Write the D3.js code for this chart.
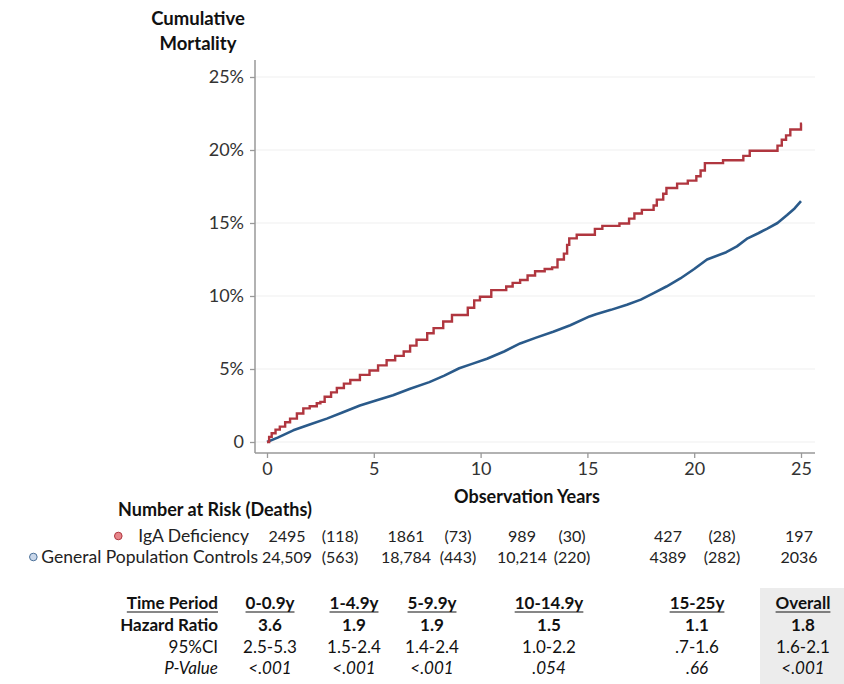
<!DOCTYPE html>
<html>
<head>
<meta charset="utf-8">
<script src="https://cdn.jsdelivr.net/npm/d3@7"></script>
<style>
  body { margin: 0; background: #fff; }
  svg, svg text { font-family: Lato, "Open Sans", sans-serif; }
</style>
</head>
<body>
<svg id="chart" width="844" height="684"></svg>
<script>
// Cumulative mortality readings (years, %)
const igaCurve = [
  [0, 0], [0.1, 0.35], [0.22, 0.6], [0.4, 0.85], [0.6, 1.05], [0.85, 1.35], [1.08, 1.6],
  [1.4, 1.95], [1.7, 2.3], [2.0, 2.45], [2.33, 2.65], [2.5, 2.75], [2.7, 3.1], [3.0, 3.4],
  [3.27, 3.7], [3.6, 4.0], [3.9, 4.25], [4.35, 4.6], [4.8, 4.9], [5.2, 5.25], [5.6, 5.6],
  [6.0, 5.9], [6.4, 6.2], [6.7, 6.6], [7.0, 7.0], [7.5, 7.45], [7.8, 7.8], [8.25, 8.25],
  [8.66, 8.7], [9.4, 9.2], [9.7, 9.7], [9.97, 9.95], [10.5, 10.4], [11.2, 10.65], [11.5, 10.9],
  [11.85, 11.1], [12.2, 11.4], [12.55, 11.7], [13.0, 11.85], [13.35, 11.96], [13.6, 12.5],
  [13.9, 12.9], [14.05, 13.5], [14.15, 13.95], [14.5, 14.2], [15.35, 14.6], [15.7, 14.8],
  [16.5, 14.97], [16.95, 15.3], [17.2, 15.65], [17.55, 15.9], [18.1, 16.2], [18.25, 16.6],
  [18.55, 17.0], [18.7, 17.4], [19.2, 17.7], [19.7, 17.9], [20.1, 18.2], [20.3, 18.6],
  [20.5, 19.1], [21.35, 19.3], [22.3, 19.6], [22.6, 19.95], [23.9, 20.3], [24.1, 20.7],
  [24.3, 21.0], [24.5, 21.4], [25.0, 21.8], [25.05, 21.8]
];
const controlCurve = [
  [0, 0], [0.5, 0.3], [1.23, 0.8], [2.0, 1.2], [2.8, 1.6], [3.5, 2.0], [4.35, 2.5], [5.1, 2.85],
  [5.9, 3.2], [6.7, 3.65], [7.6, 4.1], [8.3, 4.55], [9.0, 5.05], [9.6, 5.35], [10.3, 5.7],
  [11.1, 6.2], [11.85, 6.75], [12.6, 7.15], [13.4, 7.55], [14.2, 8.0], [15.1, 8.6], [15.4, 8.75],
  [16.1, 9.05], [16.85, 9.4], [17.5, 9.75], [18.1, 10.2], [18.7, 10.65], [19.35, 11.2],
  [20.0, 11.85], [20.6, 12.5], [21.5, 13.0], [22.0, 13.4], [22.5, 13.95], [23.0, 14.3],
  [23.4, 14.6], [23.9, 15.0], [24.35, 15.55], [24.7, 16.0], [25.0, 16.5]
];

const xTicks = [0, 5, 10, 15, 20, 25];
const yTicks = [0, 5, 10, 15, 20, 25];

// Number at risk (deaths)
const groups = ["IgA Deficiency", "General Population Controls"];
const riskIgA = [2495, 1861, 989, 427, 197];
const deathsIgA = [118, 73, 30, 28];
const riskCtrl = [24509, 18784, 10214, 4389, 2036];
const deathsCtrl = [563, 443, 220, 282];

// Hazard ratio table
const rowLabels = ["Time Period", "Hazard Ratio", "95%CI", "P-Value"];
const periods = ["0-0.9y", "1-4.9y", "5-9.9y", "10-14.9y", "15-25y", "Overall"];
const hazard = ["3.6", "1.9", "1.9", "1.5", "1.1", "1.8"];
const ci = ["2.5-5.3", "1.5-2.4", "1.4-2.4", "1.0-2.2", ".7-1.6", "1.6-2.1"];
const pValues = ["<.001", "<.001", "<.001", ".054", ".66", "<.001"];

// layout
const riskCols = [287, 406, 522, 668, 799];
const deathCols = [340, 458, 572, 722];
const periodCols = [270, 354, 432, 549, 697, 803];
const red = "#b0363f";
const blue = "#2a5a8a";

const svg = d3.select("#chart");

const xScale = d3.scaleLinear().domain([0, 25]).range([267, 801]);
const yScale = d3.scaleLinear().domain([0, 25]).range([442, 77]);

// gridlines
svg.append("g")
  .selectAll("line")
  .data(yTicks)
  .enter()
  .append("line")
  .attr("x1", 255)
  .attr("x2", 815)
  .attr("y1", d => yScale(d))
  .attr("y2", d => yScale(d))
  .attr("stroke", "#efefef")
  .attr("stroke-width", 1.2);

// y axis
const yAxis = d3.axisLeft(yScale)
  .tickValues(yTicks)
  .tickSize(5)
  .tickPadding(6)
  .tickFormat(d => d === 0 ? "0" : d + "%");

const gy = svg.append("g")
  .attr("transform", "translate(255,0)")
  .call(yAxis);
gy.select(".domain").remove();
gy.selectAll(".tick line").attr("stroke", "#999").attr("stroke-width", 1.3);
gy.selectAll(".tick text").attr("fill", "#333").style("font-size", "18px");

// x axis
const xAxis = d3.axisBottom(xScale)
  .tickValues(xTicks)
  .tickSize(5)
  .tickPadding(4);

const gx = svg.append("g")
  .attr("transform", "translate(0,453)")
  .call(xAxis);
gx.select(".domain").remove();
gx.selectAll(".tick line").attr("stroke", "#999").attr("stroke-width", 1.3);
gx.selectAll(".tick text").attr("fill", "#333").style("font-size", "18px");
svg.selectAll("g").attr("font-family", null);

// axis lines
svg.append("line").attr("x1", 255).attr("x2", 255).attr("y1", 60).attr("y2", 453)
  .attr("stroke", "#999").attr("stroke-width", 1.5);
svg.append("line").attr("x1", 255).attr("x2", 815).attr("y1", 453).attr("y2", 453)
  .attr("stroke", "#999").attr("stroke-width", 1.5);

// curves
const stepLine = d3.line()
  .x(d => xScale(d[0]))
  .y(d => yScale(d[1]))
  .curve(d3.curveStepAfter);

const smoothLine = d3.line()
  .x(d => xScale(d[0]))
  .y(d => yScale(d[1]));

svg.append("path")
  .datum(controlCurve)
  .attr("d", smoothLine)
  .attr("fill", "none")
  .attr("stroke", blue)
  .attr("stroke-width", 2.6)
  .attr("stroke-linejoin", "round");

svg.append("path")
  .datum(igaCurve)
  .attr("d", stepLine)
  .attr("fill", "none")
  .attr("stroke", red)
  .attr("stroke-width", 2.4);

// titles
const yTitle = svg.append("text")
  .attr("text-anchor", "middle")
  .attr("font-weight", "bold")
  .style("font-size", "18.5px")
  .attr("fill", "#111");
yTitle.append("tspan").attr("x", 198).attr("y", 25).text("Cumulative");
yTitle.append("tspan").attr("x", 198).attr("y", 50).text("Mortality");

svg.append("text")
  .attr("x", 527)
  .attr("y", 503)
  .attr("text-anchor", "middle")
  .attr("font-weight", "bold")
  .style("font-size", "18px")
  .attr("fill", "#111")
  .text("Observation Years");

// number at risk
svg.append("text")
  .attr("x", 215)
  .attr("y", 516)
  .attr("text-anchor", "middle")
  .attr("font-weight", "bold")
  .style("font-size", "18px")
  .attr("fill", "#111")
  .text("Number at Risk (Deaths)");

const riskRows = [
  { name: groups[0], risk: riskIgA, deaths: deathsIgA, y: 542, end: 249, gap: 20, fill: "#e7868b", stroke: "#b0363f" },
  { name: groups[1], risk: riskCtrl, deaths: deathsCtrl, y: 563, end: 258, gap: 8, fill: "#c9d7ea", stroke: "#4a6f98" }
];
const fmt = n => n >= 10000 ? d3.format(",")(n) : String(n);

riskRows.forEach(r => {
  const label = svg.append("text")
    .attr("x", r.end)
    .attr("y", r.y)
    .attr("text-anchor", "end")
    .style("font-size", "17.5px")
    .attr("fill", "#222")
    .text(r.name);
  const lb = label.node().getBBox();
  svg.append("circle")
    .attr("cx", lb.x - r.gap)
    .attr("cy", r.y - 6)
    .attr("r", 3.8)
    .attr("fill", r.fill)
    .attr("stroke", r.stroke)
    .attr("stroke-width", 1);
  svg.append("g")
    .selectAll("text")
    .data(r.risk)
    .enter()
    .append("text")
    .attr("x", (d, i) => riskCols[i])
    .attr("y", r.y)
    .attr("text-anchor", "middle")
    .style("font-size", "16px")
    .attr("fill", "#222")
    .text(d => fmt(d));
  svg.append("g")
    .selectAll("text")
    .data(r.deaths)
    .enter()
    .append("text")
    .attr("x", (d, i) => deathCols[i])
    .attr("y", r.y)
    .attr("text-anchor", "middle")
    .style("font-size", "16px")
    .attr("fill", "#222")
    .text(d => "(" + d + ")");
});

// hazard ratio table
svg.append("rect")
  .attr("x", 760)
  .attr("y", 588)
  .attr("width", 84)
  .attr("height", 96)
  .attr("fill", "#ececec");

const rowY = [609, 631, 653, 674];
const rowStyle = [
  { weight: "bold", italic: false },
  { weight: "bold", italic: false },
  { weight: "normal", italic: false },
  { weight: "normal", italic: true }
];
const rowValues = [periods, hazard, ci, pValues];

rowLabels.forEach((label, r) => {
  const t = svg.append("text")
    .attr("x", 218)
    .attr("y", rowY[r])
    .attr("text-anchor", "end")
    .attr("font-weight", rowStyle[r].weight)
    .attr("font-style", rowStyle[r].italic ? "italic" : "normal")
    .style("font-size", "17px")
    .attr("fill", "#111")
    .text(label);
  if (r === 0) underline(t);

  rowValues[r].forEach((v, c) => {
    const tv = svg.append("text")
      .attr("x", periodCols[c])
      .attr("y", rowY[r])
      .attr("text-anchor", "middle")
      .attr("font-weight", rowStyle[r].weight)
      .attr("font-style", rowStyle[r].italic ? "italic" : "normal")
      .style("font-size", "17px")
      .attr("fill", "#111")
      .text(v);
    if (r === 0) underline(tv);
  });
});

function underline(t) {
  const b = t.node().getBBox();
  svg.append("line")
    .attr("x1", b.x)
    .attr("x2", b.x + b.width)
    .attr("y1", +t.attr("y") + 3)
    .attr("y2", +t.attr("y") + 3)
    .attr("stroke", "#111")
    .attr("stroke-width", 1.2);
}
</script>
</body>
</html>
